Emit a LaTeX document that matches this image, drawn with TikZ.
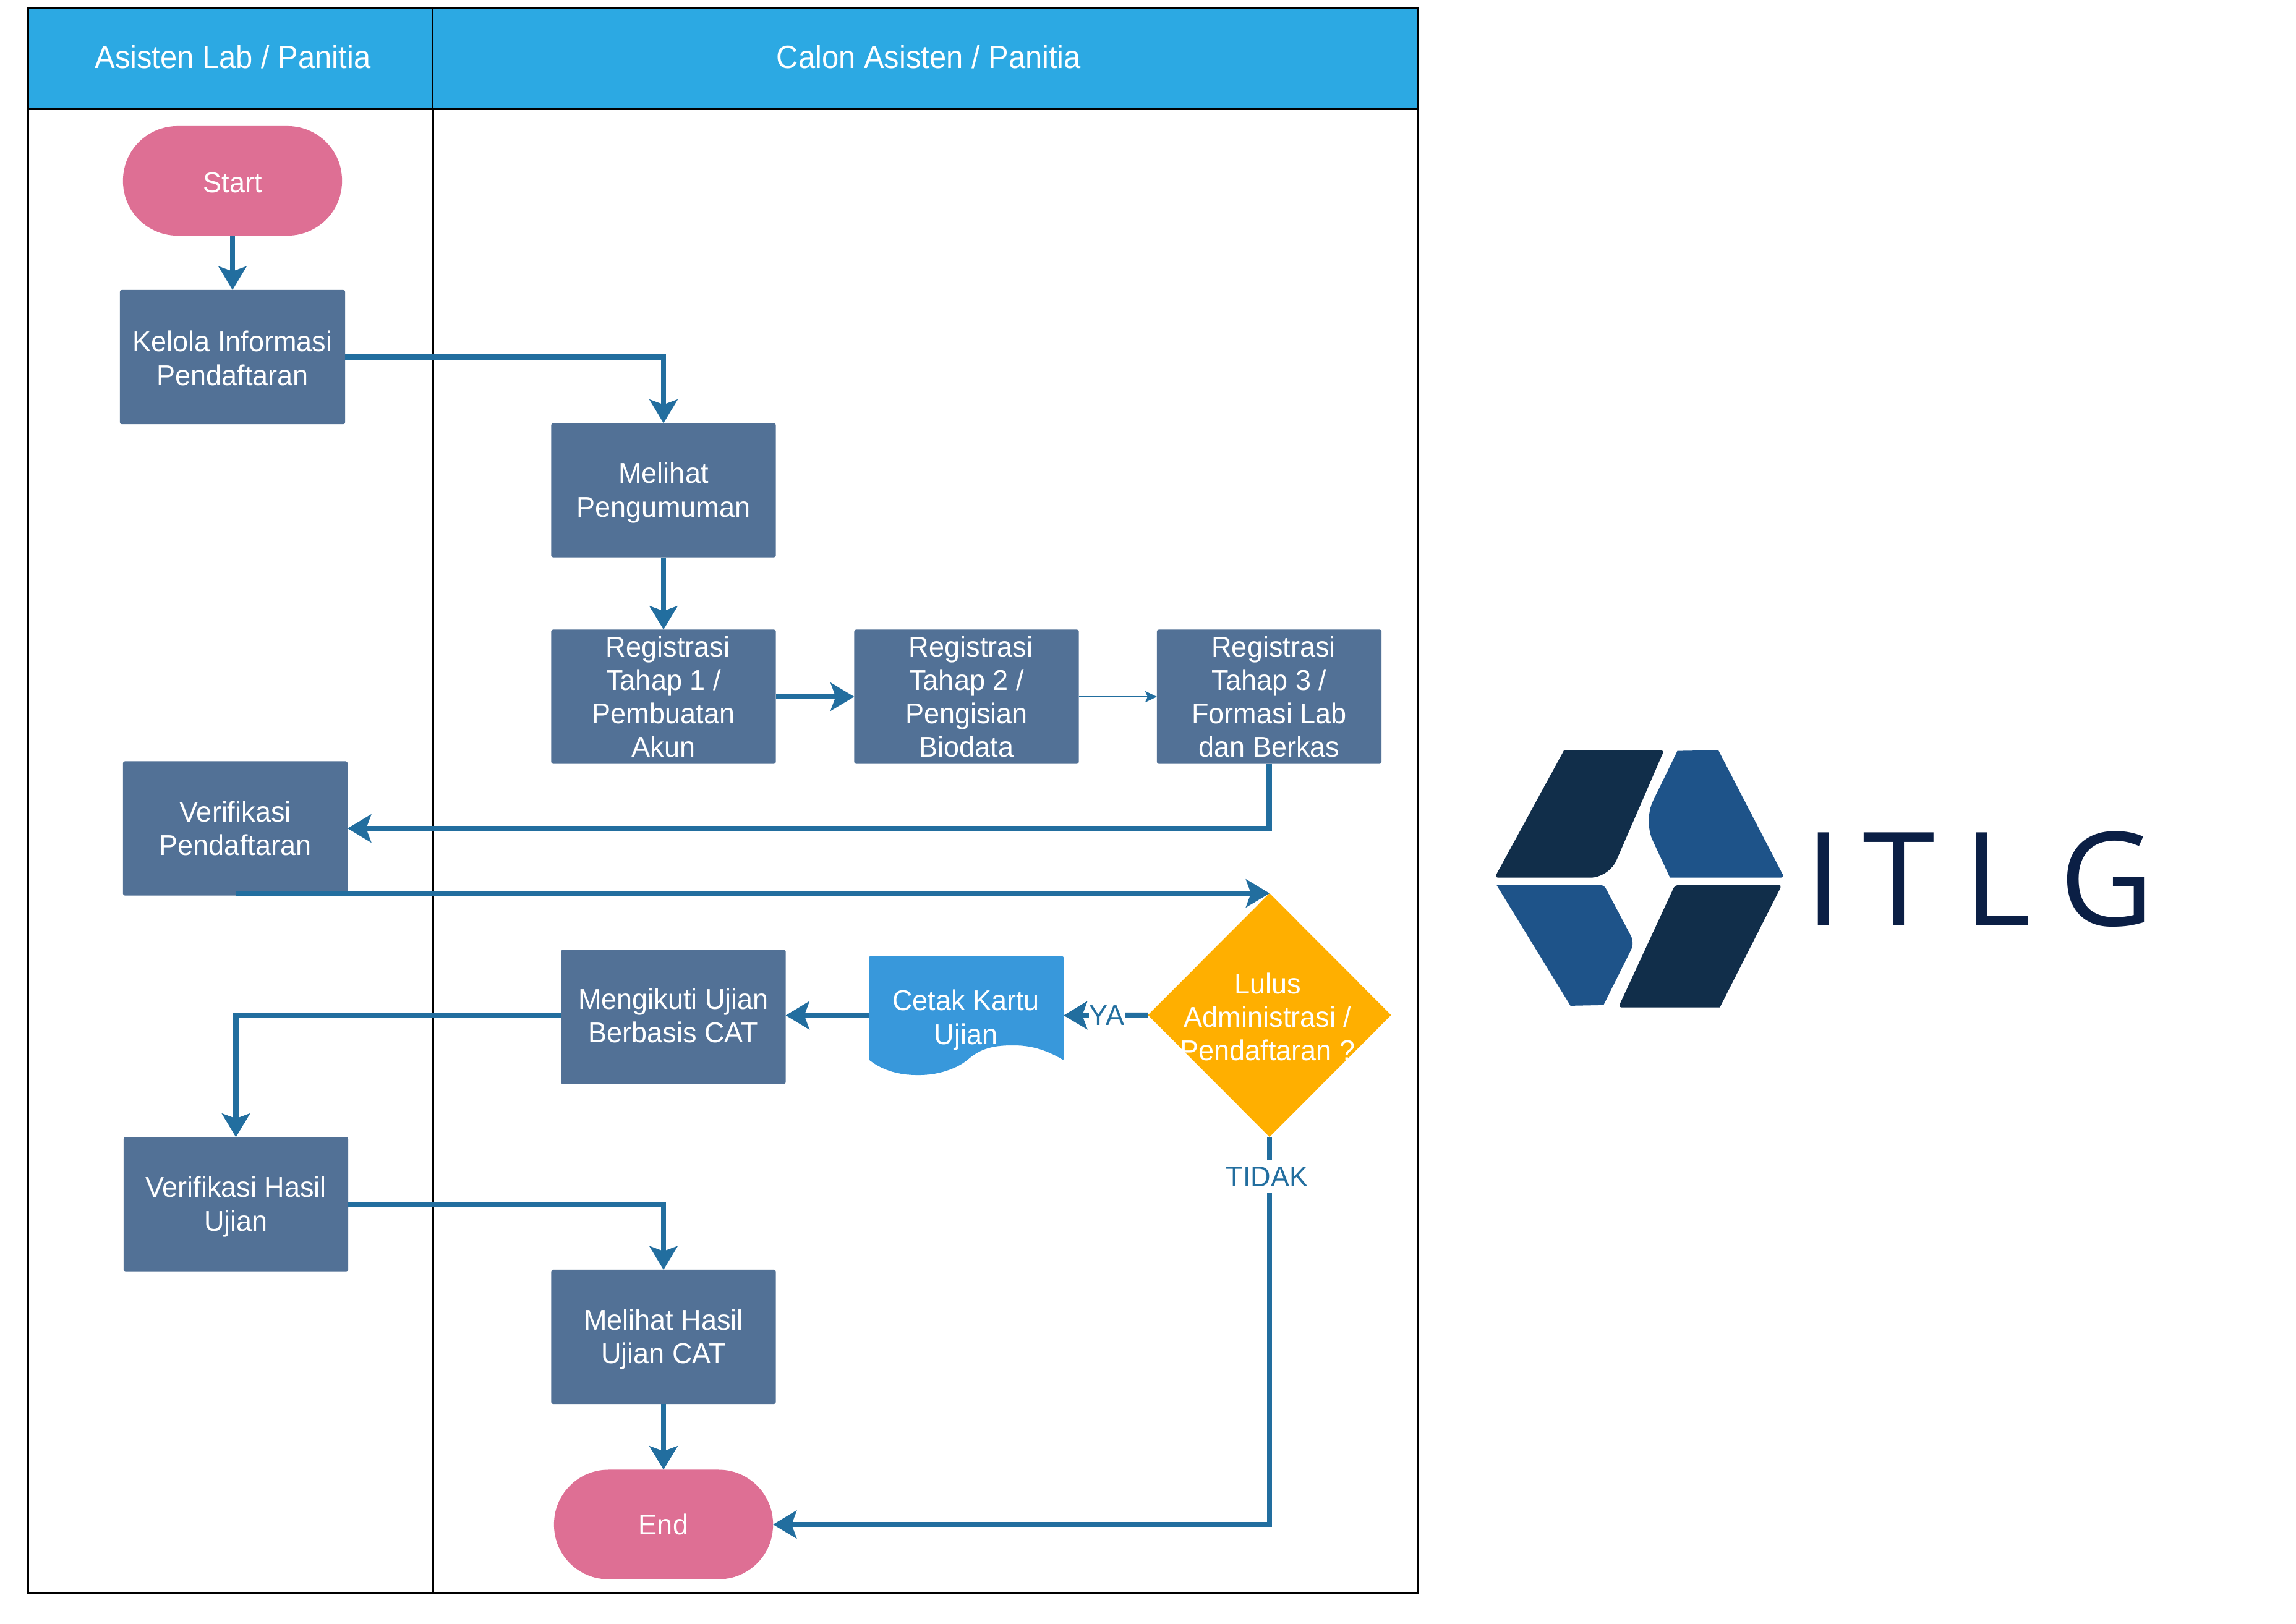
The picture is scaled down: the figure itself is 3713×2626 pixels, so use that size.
\documentclass[tikz,border=0pt]{standalone}
\usepackage{fontspec}
\setmainfont[FakeStretch=0.97]{Liberation Sans}
\newfontfamily\hdrfont[FakeStretch=0.94]{Liberation Sans}
\newfontfamily\logofont{Open Sans}
\usetikzlibrary{arrows.meta,shapes.geometric,calc}
\definecolor{hdrblue}{HTML}{2CA9E3}
\definecolor{boxblue}{HTML}{527196}
\definecolor{termpink}{HTML}{DE6F94}
\definecolor{flowblue}{HTML}{226E9F}
\definecolor{docblue}{HTML}{3898DB}
\definecolor{decamber}{HTML}{FFAF00}
\definecolor{logodark}{HTML}{112E4A}
\definecolor{logoblue}{HTML}{1E5389}
\definecolor{logotext}{HTML}{0B1F45}
\newcommand{\tallfirst}[1]{\rule{0pt}{#1}}
\newcommand{\deeplast}[1]{\rule[-#1]{0pt}{0pt}}
\tikzset{
  hdrcell/.style={draw=black,line width=.035cm,fill=hdrblue,text=white,outer sep=0pt,inner sep=0pt,
    font=\hdrfont\fontsize{14.8}{17}\selectfont},
  lanecell/.style={draw=black,line width=.035cm,outer sep=0pt,inner sep=0pt},
  procbox/.style={fill=boxblue,text=white,rounded corners=.03cm,outer sep=0pt,inner sep=0pt,align=center,
    minimum width=3.63cm,minimum height=2.17cm,font=\fontsize{13.2}{15.4}\selectfont},
  termbox/.style={fill=termpink,text=white,rounded corners=.88cm,outer sep=0pt,inner sep=0pt,
    minimum width=3.54cm,minimum height=1.77cm,font=\fontsize{13.2}{15.4}\selectfont},
  plaintext/.style={text=white,align=center,inner sep=0pt,font=\fontsize{13.2}{15.4}\selectfont},
  flowlabel/.style={fill=white,text=flowblue,inner sep=0pt,font=\fontsize{13.2}{15.4}\selectfont},
  flow/.style={draw=flowblue,line width=.085cm,-{Stealth[length=.38cm,width=.45cm,inset=.08cm]}},
  thinflow/.style={draw=flowblue,line width=.022cm,-{Stealth[length=.19cm,width=.18cm,inset=.04cm]}}
}
\begin{document}
\begin{tikzpicture}[x=0.01cm,y=-0.01cm]
\useasboundingbox (0,0) rectangle (3713,2626);
\fill[white] (0,0) rectangle (3713,2626);
% swimlanes
\node[lanecell,minimum width=6.55cm,minimum height=24cm] (laneA) at (372.5,1376) {};
\node[lanecell,minimum width=15.92cm,minimum height=24cm] (laneB) at (1496,1376) {};
\node[hdrcell,minimum width=6.55cm,minimum height=1.63cm] (hdrA) at (372.5,94.5) {\hspace*{.08cm}Asisten Lab / Panitia\deeplast{1.4pt}};
\node[hdrcell,minimum width=15.92cm,minimum height=1.63cm] (hdrB) at (1496,94.5) {\hspace*{3.4pt}Calon Asisten / Panitia\deeplast{1.4pt}};
% nodes
\node[termbox] (start) at (376,292.5) {\tallfirst{10.65pt}Start};
\node[procbox,minimum width=3.64cm] (kelola) at (376,577.5) {\tallfirst{10.65pt}Kelola Informasi\\Pendaftaran};
\node[procbox] (melihat) at (1073,793) {\tallfirst{11.8pt}Melihat\\Pengumuman};
\node[procbox] (reg1) at (1073,1127) {\hspace*{4pt}Registrasi\\Tahap 1 /\\Pembuatan\\Akun};
\node[procbox] (reg2) at (1563,1127) {\hspace*{4pt}Registrasi\\Tahap 2 /\\Pengisian\\Biodata};
\node[procbox] (reg3) at (2052.5,1127) {\hspace*{4pt}Registrasi\\Tahap 3 /\\Formasi Lab\\dan Berkas};
\node[procbox] (verif) at (380.5,1340) {Verifikasi\\Pendaftaran};
\node[procbox] (ikut) at (1089,1645) {Mengikuti Ujian\\Berbasis CAT\deeplast{1.15pt}};
\node[procbox] (vhasil) at (381.5,1948) {\tallfirst{11.8pt}Verifikasi Hasil\\Ujian};
\node[procbox] (mhasil) at (1073,2162.5) {\tallfirst{11.8pt}Melihat Hasil\\Ujian CAT};
\node[termbox] (end) at (1073,2466) {End};
% document shape
\fill[docblue,rounded corners=.02cm] (1405,1547) -- (1720,1547) -- (1720,1715)
  .. controls (1690,1697) and (1665,1691) .. (1638,1691)
  .. controls (1605,1691) and (1585,1697) .. (1565,1714)
  .. controls (1545,1730) and (1515,1739) .. (1485,1739)
  .. controls (1455,1739) and (1428,1732) .. (1405,1714) -- cycle;
\node[inner sep=0pt,outer sep=0pt,minimum width=3.15cm,minimum height=1.91cm] (cetak) at (1562.5,1642.5) {};
\node[plaintext] (cetaktext) at (1562,1650) {Cetak Kartu\\Ujian};
% decision
\node[diamond,fill=decamber,inner sep=0pt,outer sep=0pt,minimum width=3.93cm,minimum height=3.94cm] (dec) at (2053,1642) {};
\node[plaintext] (dectext) at (2050,1645) {Lulus\\Administrasi /\\Pendaftaran ?};
% connectors
\coordinate (vout) at (382,1445);
\draw[flow] (start.south) -- (kelola.north);
\draw[flow] (kelola.east) -| (melihat.north);
\draw[flow] (melihat.south) -- (reg1.north);
\draw[flow] (reg1.east) -- (reg2.west);
\draw[thinflow] (reg2.east) -- (reg3.west);
\draw[flow] (reg3.south) |- (verif.east);
\draw[flow] (vout) -- (vout -| dec.north);
\draw[flow] (dec.west) -- (cetak.east);
\draw[flow] (cetak.west) -- (ikut.east |- cetak.west);
\draw[flow] (ikut.west |- cetak.west) -| (vhasil.north);
\draw[flow] (vhasil.east) -| (mhasil.north);
\draw[flow] (mhasil.south) -- (end.north);
\draw[flow] (dec.south) |- (end.east);
% connector labels
\node[flowlabel,minimum width=.59cm,minimum height=.5cm] (ya) at (1790,1642) {YA};
\node[flowlabel,minimum height=.54cm] (tidak) at (2049,1903) {TIDAK};
% logo
\begin{scope}[shift={(2350,1150)},x=0.00797cm,y=-0.003507cm]
\fill[logodark] (225,181) [rounded corners=.05cm] -- (428,181) [rounded corners=.3cm] -- (316,768) [rounded corners=.06cm] -- (84,768) [sharp corners] -- cycle;
\fill[logoblue] (455,184) -- (538,181) [rounded corners=.06cm] -- (672,768) [sharp corners] -- (440,768) [rounded corners=.35cm] -- (386,505) [sharp corners] -- cycle;
\fill[logoblue] (88,802) [rounded corners=.05cm] -- (306,802) [rounded corners=.12cm] -- (368,1068) [sharp corners] -- (305,1355) -- (238,1358) -- cycle;
\fill[logodark] (450,802) [rounded corners=.05cm] -- (667,802) [sharp corners] -- (541,1366) [rounded corners=.05cm] -- (335,1366) [rounded corners=.05cm] -- cycle;
\end{scope}
\node[anchor=base west,inner sep=0pt,text=logotext,font=\logofont\fontsize{60}{70}\selectfont] (logoname) at (2919,1497) {I\kern.34cm T\kern.46cm L\kern.46cm G};
\end{tikzpicture}
\end{document}
